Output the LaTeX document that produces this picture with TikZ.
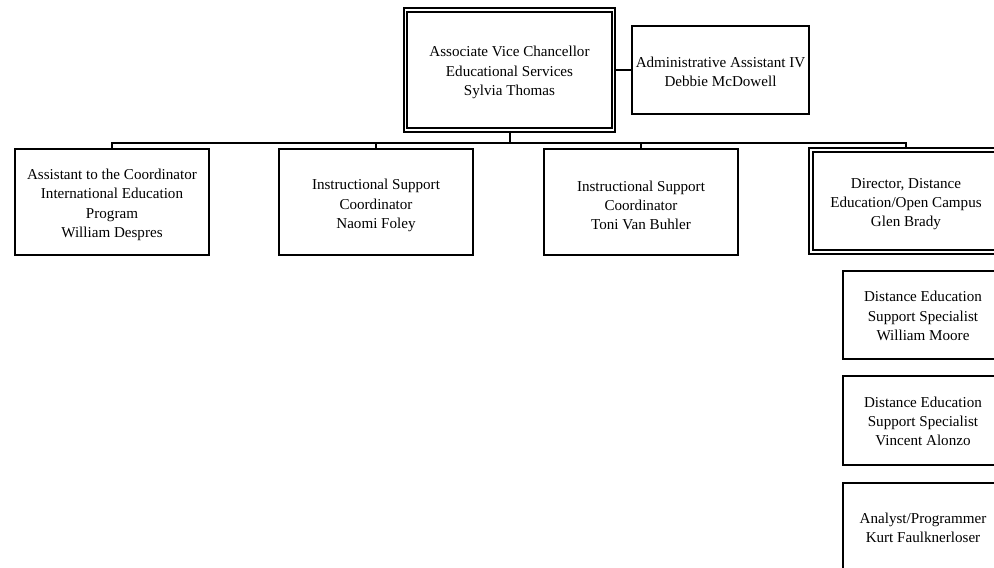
\documentclass[tikz,border=0pt]{standalone}
\usepackage{fontspec}
\setmainfont{Liberation Serif}
\begin{document}
\begin{tikzpicture}[x=1pt,y=-1pt,
  box/.style={draw,line width=2pt,inner sep=0pt,minimum width=#1},
  box/.default=194pt,
  txt/.style={align=center,inner sep=0pt,font=\fontsize{15.1}{19.3}\selectfont},
  dbl/.style={double,double distance=1.6pt,line width=1.9pt},
  conn/.style={line width=2pt}]
\useasboundingbox (0,0) rectangle (994,568);
\fill[white] (0,0) rectangle (994,568);
\clip (0,0) rectangle (994,568);
\node[box=208pt,minimum height=120pt,dbl] (top) at (509.5,70) {};
\node[txt] (topt) at ([yshift=-2.5pt]top.center) {Associate Vice Chancellor\\Educational Services\\Sylvia Thomas};
\node[box=177pt,minimum height=88pt] (admin) at (720.5,70) {};
\node[txt] (admint) at ([yshift=-2pt]admin.center) {Administrative Assistant IV\\Debbie McDowell};
\node[box,minimum height=106pt] (b1) at (112,202) {};
\node[txt] (b1t) at ([yshift=-3pt]b1.center) {Assistant to the Coordinator\\International Education\\Program\\William Despres};
\node[box,minimum height=106pt] (b2) at (376,202) {};
\node[txt] (b2t) at ([yshift=-3.5pt]b2.center) {Instructional Support\\Coordinator\\Naomi Foley};
\node[box,minimum height=106pt] (b3) at (641,202) {};
\node[txt] (b3t) at ([yshift=-3.5pt]b3.center) {Instructional Support\\Coordinator\\Toni Van Buhler};
\node[box=190pt,minimum height=102pt,dbl] (b4) at (906,201) {};
\node[txt] (b4t) at ([yshift=-3pt]b4.center) {Director, Distance\\Education/Open Campus\\Glen Brady};
\node[box=160pt,minimum height=88pt] (b5) at (923,315) {};
\node[txt] (b5t) at ([yshift=-1pt]b5.center) {Distance Education\\Support Specialist\\William Moore};
\node[box=160pt,minimum height=89pt] (b6) at (923,420.5) {};
\node[txt] (b6t) at ([yshift=-1pt]b6.center) {Distance Education\\Support Specialist\\Vincent Alonzo};
\node[box=160pt,minimum height=88pt] (b7) at (923,527) {};
\node[txt] (b7t) at ([yshift=-1pt]b7.center) {Analyst/Programmer\\Kurt Faulknerloser};
\draw[conn] (top.east) -- (admin.west);
\draw[conn] (top.south) -- ++(0,12) coordinate (bus);
\foreach \n in {b1,b2,b3,b4} \draw[conn] (\n.north) |- (bus);
\end{tikzpicture}
\end{document}
